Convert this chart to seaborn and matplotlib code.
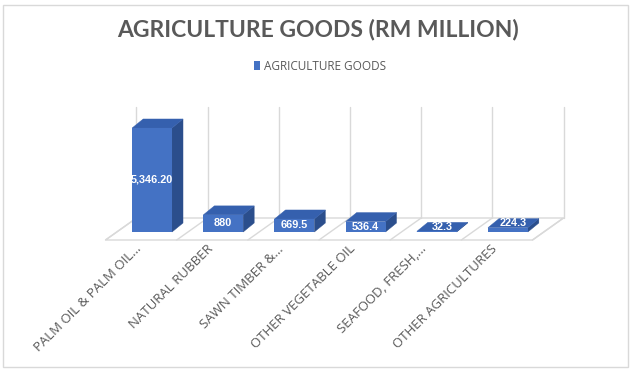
import matplotlib
matplotlib.use('Agg')
import matplotlib.pyplot as plt
import matplotlib.transforms as mtransforms
import seaborn as sns
import pandas as pd
from matplotlib.patches import Polygon, Rectangle, Patch
from matplotlib.lines import Line2D

# ---- data ----
categories = ["PALM OIL & PALM OIL…", "NATURAL RUBBER", "SAWN TIMBER &…",
              "OTHER VEGETABLE OIL", "SEAFOOD, FRESH,…", "OTHER AGRICULTURES"]
values = [5346.20, 880, 669.5, 536.4, 32.3, 224.3]
value_labels = ["5,346.20", "880", "669.5", "536.4", "32.3", "224.3"]
series_name = "AGRICULTURE GOODS"
title = "AGRICULTURE GOODS (RM MILLION)"

FRONT = '#4472C4'
TOP = '#3560AE'
SIDE = '#2B4E8C'
GRID = '#d9d9d9'
TXT = '#595959'

sns.set_style('white')
plt.rcParams['font.family'] = ['Open Sans', 'DejaVu Sans']

W, H = 638, 382
fig = plt.figure(figsize=(W / 100, H / 100), dpi=100)
ax_w_px, ax_h_px = 427.0, 110.9
ax = fig.add_axes([116.5 / W, 150 / H, ax_w_px / W, ax_h_px / H])

df = pd.DataFrame({'cat': categories, 'val': values})
sns.barplot(data=df, x='cat', y='val', color=FRONT, width=0.56, saturation=1,
            ax=ax, zorder=5, linewidth=0)
ax.set_xlim(-0.5, len(categories) - 0.5)
ax.set_ylim(0, 5700)
bars = list(ax.patches)

xmin, xmax = ax.get_xlim()
ymin, ymax = ax.get_ylim()
sx = (xmax - xmin) / ax_w_px
sy = (ymax - ymin) / ax_h_px


def off(x, y, dxp, dyp):
    return (x + dxp * sx, y + dyp * sy)


# floor & walls
FF = (-11, -8)   # floor front offset (px)
FB = (20, 14)    # floor back offset (px)
n = len(categories)
floor = Polygon([off(xmin, 0, *FF), off(xmax, 0, *FF), off(xmax, 0, *FB), off(xmin, 0, *FB)],
                closed=True, facecolor='white', edgecolor=GRID, lw=1, clip_on=False, zorder=1)
ax.add_patch(floor)
for k in range(n + 1):
    xb = xmin + k
    p0 = off(xb, 0, *FF)
    p1 = off(xb, 0, *FB)
    ax.add_line(Line2D([p0[0], p1[0]], [p0[1], p1[1]], color=GRID, lw=1, clip_on=False, zorder=1))
    p2 = off(xb, ymax, *FB)
    ax.add_line(Line2D([p1[0], p2[0]], [p1[1], p2[1]], color=GRID, lw=1, clip_on=False, zorder=1))

# 3D bar faces
D = (11, 9)
for b in bars:
    x0 = b.get_x()
    x1 = x0 + b.get_width()
    h = b.get_height()
    side = Polygon([(x1, 0), off(x1, 0, *D), off(x1, h, *D), (x1, h)], closed=True,
                   facecolor=SIDE, edgecolor=SIDE, lw=0.3, clip_on=False, zorder=4)
    top = Polygon([(x0, h), (x1, h), off(x1, h, *D), off(x0, h, *D)], closed=True,
                  facecolor=TOP, edgecolor=TOP, lw=0.3, clip_on=False, zorder=4)
    ax.add_patch(side)
    ax.add_patch(top)

# data labels (front-face centre, or top-face centre for very flat bars)
for i, (v, lab) in enumerate(zip(values, value_labels)):
    if v >= 400:
        x, y = i, v / 2
    else:
        x, y = off(i, v, D[0] / 2, D[1] / 2)
    ax.text(x, y, lab, ha='center', va='center', color='white', fontweight='bold',
            fontsize=7.8, family=['Liberation Sans Narrow', 'Liberation Sans', 'DejaVu Sans'],
            zorder=10, clip_on=False)

# axes cosmetics
for s in ax.spines.values():
    s.set_visible(False)
ax.set_xlabel('')
ax.set_ylabel('')
ax.set_yticks([])
ax.set_xticks(range(n))
ax.set_xticklabels(categories, rotation=45, ha='right', rotation_mode='anchor',
                   fontsize=9.5, color=TXT)
ax.tick_params(axis='x', length=0, pad=7.5)
shift = mtransforms.ScaledTranslation(-17 / 100, 0, fig.dpi_scale_trans)
for lbl in ax.get_xticklabels():
    lbl.set_transform(lbl.get_transform() + shift)
ax.set_facecolor('none')

# title & legend
fig.text(318 / W, 1 - 30 / H, title, ha='center', va='center', fontsize=16.5,
         fontweight='bold', color=TXT, family=['Lato', 'Open Sans', 'DejaVu Sans'])
fig.legend(handles=[Patch(facecolor=FRONT, edgecolor='none', label=series_name)],
           loc='center', bbox_to_anchor=(320 / W, 1 - 66 / H), frameon=False,
           fontsize=8.5, handlelength=0.55, handleheight=0.9, handletextpad=0.3,
           labelcolor=TXT)

# chart border
fig.add_artist(Rectangle((3 / W, 15 / H), 625 / W, 362 / H, transform=fig.transFigure,
                         fill=False, edgecolor=GRID, lw=1))

fig.savefig('out.png', dpi=100)
